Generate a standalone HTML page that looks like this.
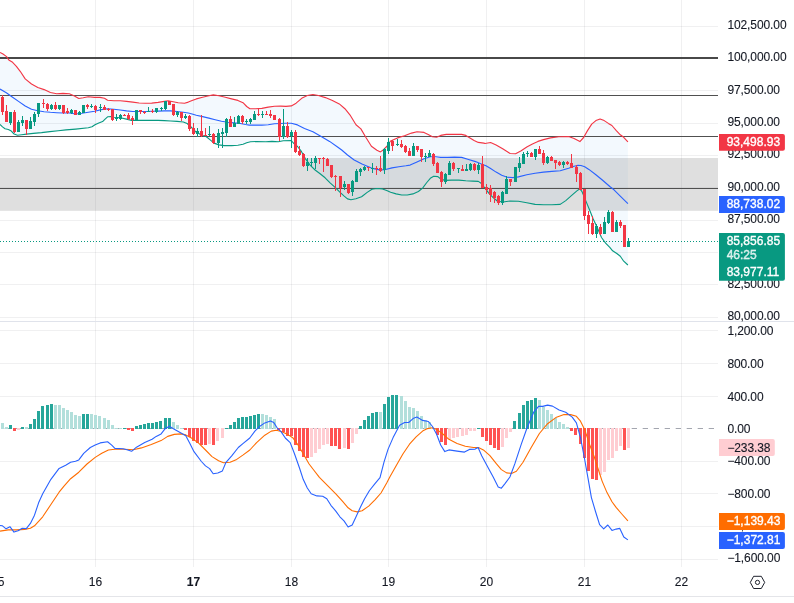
<!DOCTYPE html>
<html><head><meta charset="utf-8"><title>Chart</title>
<style>
html,body{margin:0;padding:0;background:#fff;}
body{width:794px;height:603px;overflow:hidden;}
svg{display:block;will-change:transform;}
text{font-family:"Liberation Sans",sans-serif;font-size:12px;fill:#131722;stroke:#131722;stroke-width:0.1px;letter-spacing:-0.1px;}
.w{fill:#fff;stroke:#fff;stroke-width:0.35px;letter-spacing:0;}
.t{letter-spacing:0;}
</style></head><body>
<svg width="794" height="603" viewBox="0 0 794 603">
<rect width="794" height="603" fill="#fff"/>

<g shape-rendering="crispEdges" fill="#2a2e39" fill-opacity="0.07">
<rect x="95" y="0" width="1" height="567"/>
<rect x="193" y="0" width="1" height="567"/>
<rect x="291" y="0" width="1" height="567"/>
<rect x="388" y="0" width="1" height="567"/>
<rect x="486" y="0" width="1" height="567"/>
<rect x="584" y="0" width="1" height="567"/>
<rect x="681" y="0" width="1" height="567"/>
<rect x="0" y="26" width="718" height="1"/>
<rect x="0" y="58" width="718" height="1"/>
<rect x="0" y="90" width="718" height="1"/>
<rect x="0" y="123" width="718" height="1"/>
<rect x="0" y="155" width="718" height="1"/>
<rect x="0" y="187" width="718" height="1"/>
<rect x="0" y="220" width="718" height="1"/>
<rect x="0" y="252" width="718" height="1"/>
<rect x="0" y="284" width="718" height="1"/>
<rect x="0" y="317" width="718" height="1"/>
<rect x="0" y="330" width="718" height="1"/>
<rect x="0" y="363" width="718" height="1"/>
<rect x="0" y="396" width="718" height="1"/>
<rect x="0" y="461" width="718" height="1"/>
<rect x="0" y="493" width="718" height="1"/>
<rect x="0" y="526" width="718" height="1"/>
<rect x="0" y="559" width="718" height="1"/>
</g>
<polygon points="0.0,52.4 3.0,54.0 6.6,56.6 8.8,60.0 12.6,62.3 16.4,66.3 20.2,71.3 25.2,78.9 31.5,84.0 37.8,87.5 44.1,89.6 50.4,92.5 56.7,93.7 63.0,93.4 69.4,93.8 74.4,95.9 78.8,98.5 83.2,97.8 88.3,96.8 94.6,97.4 100.0,97.4 104.5,98.3 107.6,100.2 113.9,100.8 120.2,100.8 126.5,101.4 132.8,102.1 139.1,103.0 145.4,103.3 151.7,103.1 158.1,102.4 164.4,101.4 168.1,100.8 173.2,101.7 178.2,102.7 184.5,103.3 188.3,102.1 192.1,100.6 196.3,98.9 202.6,97.3 208.9,95.8 213.3,94.9 219.0,95.8 225.3,97.3 231.6,98.9 237.9,100.4 243.0,102.7 246.7,106.5 249.9,108.8 255.6,108.8 261.9,108.4 268.2,107.1 274.5,106.2 280.8,106.1 286.0,106.4 291.3,105.9 296.1,103.2 301.7,98.3 307.3,95.5 312.9,94.5 318.4,95.5 325.4,97.6 332.4,100.4 339.3,103.9 344.9,108.7 350.5,115.7 356.0,124.7 360.9,128.9 365.8,137.3 371.4,146.3 376.9,150.3 380.4,151.9 383.5,149.7 386.7,146.5 390.6,141.0 397.5,137.9 404.5,135.8 411.5,133.1 417.0,131.7 424.0,132.4 428.2,134.4 432.4,136.8 436.5,137.2 440.7,135.4 446.3,134.4 454.6,134.4 461.6,134.4 465.8,135.4 470.0,137.9 474.1,140.4 478.3,142.4 483.9,143.1 485.0,143.5 490.6,142.5 496.1,144.9 503.1,149.1 510.1,153.5 515.6,153.7 521.2,150.7 526.8,147.0 532.4,143.9 537.9,141.4 543.5,139.6 550.5,137.9 558.8,136.8 568.6,136.5 574.1,138.6 579.9,141.6 583.6,137.5 587.5,130.6 591.7,124.1 595.9,120.6 600.1,119.0 604.2,120.6 608.4,123.4 611.9,125.5 616.1,130.4 620.3,134.8 623.7,137.3 627.9,141.9 627.9,265.0 623.7,261.2 620.3,256.3 616.8,253.5 612.6,250.8 609.8,247.3 605.6,243.1 601.5,237.5 597.3,227.8 593.1,218.7 588.9,208.3 585.4,199.9 582.0,191.6 579.9,188.8 576.9,190.9 571.4,195.7 565.8,200.6 560.2,204.4 551.9,204.8 543.5,204.8 535.1,204.4 526.8,202.7 518.4,201.3 510.1,201.0 503.1,202.0 497.5,201.3 493.4,197.8 489.2,193.6 485.0,188.1 483.5,186.5 481.1,183.2 478.3,181.4 472.7,181.1 465.8,180.8 458.8,180.1 451.9,180.1 444.9,180.4 440.7,179.0 437.9,176.6 433.7,176.2 430.3,178.3 426.8,182.5 422.6,188.1 418.4,191.5 412.9,193.9 407.3,195.0 401.7,195.0 396.1,193.9 390.6,192.2 386.7,190.6 382.5,188.9 376.9,188.5 372.0,189.2 367.2,192.4 361.6,196.8 355.9,198.7 350.9,199.7 347.5,198.9 344.2,196.1 340.1,192.4 335.1,187.4 330.1,182.8 325.1,177.8 320.1,173.7 315.1,170.0 310.1,165.2 305.1,158.3 301.0,150.8 297.5,146.5 293.4,143.0 291.3,140.6 283.3,140.8 278.3,141.8 272.0,141.4 265.7,141.8 256.8,141.5 250.5,141.8 246.7,142.8 243.0,144.3 237.9,145.3 231.6,145.6 224.0,145.6 219.0,144.9 214.0,143.1 210.2,139.9 206.4,136.7 202.6,135.5 196.3,132.3 192.5,128.5 190.0,126.0 187.1,123.5 183.3,122.0 177.0,121.4 170.7,121.0 164.4,120.6 158.1,120.4 145.4,120.4 139.1,120.4 131.6,120.4 126.5,119.1 120.2,117.8 113.9,117.2 111.4,116.6 107.6,116.8 105.1,119.1 102.6,121.6 98.8,123.1 95.0,124.8 92.0,126.8 88.3,127.8 75.7,129.1 66.0,129.9 58.2,130.7 49.9,131.6 41.6,132.6 33.3,133.4 26.6,134.1 21.6,134.7 17.5,135.2 14.1,134.0 10.8,130.7 8.3,129.5 5.0,128.8 2.5,126.9 0.0,124.4" fill="#2196f3" fill-opacity="0.055"/>
<rect x="0" y="158" width="718" height="52.8" fill="#787878" fill-opacity="0.235"/>
<g shape-rendering="crispEdges">
<rect x="0" y="57" width="718" height="2" fill="#484848"/>
<rect x="0" y="95" width="718" height="1" fill="#505050"/>
<rect x="0" y="136" width="718" height="1" fill="#505050"/>
<rect x="0" y="188" width="718" height="1" fill="#505050"/>
</g>
<line x1="0" y1="241.5" x2="718" y2="241.5" stroke="#089981" stroke-width="1" stroke-dasharray="1 2" shape-rendering="crispEdges"/>
<polyline points="0.0,52.4 3.0,54.0 6.6,56.6 8.8,60.0 12.6,62.3 16.4,66.3 20.2,71.3 25.2,78.9 31.5,84.0 37.8,87.5 44.1,89.6 50.4,92.5 56.7,93.7 63.0,93.4 69.4,93.8 74.4,95.9 78.8,98.5 83.2,97.8 88.3,96.8 94.6,97.4 100.0,97.4 104.5,98.3 107.6,100.2 113.9,100.8 120.2,100.8 126.5,101.4 132.8,102.1 139.1,103.0 145.4,103.3 151.7,103.1 158.1,102.4 164.4,101.4 168.1,100.8 173.2,101.7 178.2,102.7 184.5,103.3 188.3,102.1 192.1,100.6 196.3,98.9 202.6,97.3 208.9,95.8 213.3,94.9 219.0,95.8 225.3,97.3 231.6,98.9 237.9,100.4 243.0,102.7 246.7,106.5 249.9,108.8 255.6,108.8 261.9,108.4 268.2,107.1 274.5,106.2 280.8,106.1 286.0,106.4 291.3,105.9 296.1,103.2 301.7,98.3 307.3,95.5 312.9,94.5 318.4,95.5 325.4,97.6 332.4,100.4 339.3,103.9 344.9,108.7 350.5,115.7 356.0,124.7 360.9,128.9 365.8,137.3 371.4,146.3 376.9,150.3 380.4,151.9 383.5,149.7 386.7,146.5 390.6,141.0 397.5,137.9 404.5,135.8 411.5,133.1 417.0,131.7 424.0,132.4 428.2,134.4 432.4,136.8 436.5,137.2 440.7,135.4 446.3,134.4 454.6,134.4 461.6,134.4 465.8,135.4 470.0,137.9 474.1,140.4 478.3,142.4 483.9,143.1 485.0,143.5 490.6,142.5 496.1,144.9 503.1,149.1 510.1,153.5 515.6,153.7 521.2,150.7 526.8,147.0 532.4,143.9 537.9,141.4 543.5,139.6 550.5,137.9 558.8,136.8 568.6,136.5 574.1,138.6 579.9,141.6 583.6,137.5 587.5,130.6 591.7,124.1 595.9,120.6 600.1,119.0 604.2,120.6 608.4,123.4 611.9,125.5 616.1,130.4 620.3,134.8 623.7,137.3 627.9,141.9" fill="none" stroke="#f23645" stroke-width="1.12" stroke-linejoin="round"/>
<polyline points="0.0,124.4 2.5,126.9 5.0,128.8 8.3,129.5 10.8,130.7 14.1,134.0 17.5,135.2 21.6,134.7 26.6,134.1 33.3,133.4 41.6,132.6 49.9,131.6 58.2,130.7 66.0,129.9 75.7,129.1 88.3,127.8 92.0,126.8 95.0,124.8 98.8,123.1 102.6,121.6 105.1,119.1 107.6,116.8 111.4,116.6 113.9,117.2 120.2,117.8 126.5,119.1 131.6,120.4 139.1,120.4 145.4,120.4 158.1,120.4 164.4,120.6 170.7,121.0 177.0,121.4 183.3,122.0 187.1,123.5 190.0,126.0 192.5,128.5 196.3,132.3 202.6,135.5 206.4,136.7 210.2,139.9 214.0,143.1 219.0,144.9 224.0,145.6 231.6,145.6 237.9,145.3 243.0,144.3 246.7,142.8 250.5,141.8 256.8,141.5 265.7,141.8 272.0,141.4 278.3,141.8 283.3,140.8 291.3,140.6 293.4,143.0 297.5,146.5 301.0,150.8 305.1,158.3 310.1,165.2 315.1,170.0 320.1,173.7 325.1,177.8 330.1,182.8 335.1,187.4 340.1,192.4 344.2,196.1 347.5,198.9 350.9,199.7 355.9,198.7 361.6,196.8 367.2,192.4 372.0,189.2 376.9,188.5 382.5,188.9 386.7,190.6 390.6,192.2 396.1,193.9 401.7,195.0 407.3,195.0 412.9,193.9 418.4,191.5 422.6,188.1 426.8,182.5 430.3,178.3 433.7,176.2 437.9,176.6 440.7,179.0 444.9,180.4 451.9,180.1 458.8,180.1 465.8,180.8 472.7,181.1 478.3,181.4 481.1,183.2 483.5,186.5 485.0,188.1 489.2,193.6 493.4,197.8 497.5,201.3 503.1,202.0 510.1,201.0 518.4,201.3 526.8,202.7 535.1,204.4 543.5,204.8 551.9,204.8 560.2,204.4 565.8,200.6 571.4,195.7 576.9,190.9 579.9,188.8 582.0,191.6 585.4,199.9 588.9,208.3 593.1,218.7 597.3,227.8 601.5,237.5 605.6,243.1 609.8,247.3 612.6,250.8 616.8,253.5 620.3,256.3 623.7,261.2 627.9,265.0" fill="none" stroke="#089981" stroke-width="1.12" stroke-linejoin="round"/>
<polyline points="0.0,89.0 6.3,92.8 12.6,97.2 18.9,101.6 25.2,106.0 31.5,109.2 37.8,110.8 44.1,111.7 50.4,112.3 56.7,112.7 63.0,113.0 69.4,113.0 75.7,114.0 82.0,113.3 88.3,112.3 94.6,111.2 101.3,109.6 107.6,108.8 113.9,109.3 120.2,110.0 126.5,110.9 132.8,111.5 139.1,111.5 145.4,111.5 151.7,111.3 158.1,111.1 164.4,110.9 170.7,110.9 177.0,111.5 183.3,112.2 188.3,113.0 192.1,114.0 196.3,115.3 202.6,116.6 208.9,118.1 215.2,119.7 221.5,121.2 227.8,122.2 234.1,122.9 240.4,123.5 245.5,124.5 249.3,125.1 255.6,125.1 261.9,125.1 268.2,124.8 274.5,123.8 280.8,123.5 285.0,123.3 291.3,123.2 297.5,124.9 304.5,128.4 312.9,131.8 321.2,136.4 329.6,141.4 337.9,147.2 341.7,150.0 347.5,155.0 354.2,160.0 362.0,164.1 371.4,168.1 379.7,169.9 384.6,169.8 392.0,167.9 398.9,166.8 405.9,165.8 410.1,165.1 417.0,161.9 424.0,158.8 429.6,157.0 433.7,156.5 440.7,157.4 447.7,157.4 454.6,157.1 461.6,157.4 468.6,159.5 475.5,161.6 482.5,164.4 486.0,165.8 490.6,168.6 496.1,172.1 501.7,175.3 507.3,177.2 512.9,177.6 518.4,176.9 526.8,174.8 535.1,173.2 543.5,172.1 551.9,171.4 560.2,170.7 568.6,168.3 574.1,166.2 578.0,165.4 581.0,165.5 584.7,166.8 588.9,169.4 595.9,174.7 602.9,180.5 609.8,186.5 614.0,189.8 620.0,195.8 627.9,203.7" fill="none" stroke="#2962ff" stroke-width="1.12" stroke-linejoin="round"/>
<g shape-rendering="crispEdges">
<rect x="2" y="95" width="1" height="20" fill="#f23645"/>
<rect x="1" y="97" width="3" height="15" fill="#f23645"/>
<rect x="6" y="105" width="1" height="17" fill="#f23645"/>
<rect x="5" y="111" width="3" height="11" fill="#f23645"/>
<rect x="10" y="112" width="1" height="13" fill="#089981"/>
<rect x="9" y="112" width="3" height="11" fill="#089981"/>
<rect x="14" y="110" width="1" height="23" fill="#f23645"/>
<rect x="13" y="112" width="3" height="20" fill="#f23645"/>
<rect x="18" y="120" width="1" height="12" fill="#089981"/>
<rect x="17" y="122" width="3" height="10" fill="#089981"/>
<rect x="22" y="116" width="1" height="10" fill="#089981"/>
<rect x="21" y="120" width="3" height="3" fill="#089981"/>
<rect x="26" y="120" width="1" height="15" fill="#f23645"/>
<rect x="25" y="120" width="3" height="9" fill="#f23645"/>
<rect x="30" y="117" width="1" height="12" fill="#089981"/>
<rect x="29" y="121" width="3" height="8" fill="#089981"/>
<rect x="34" y="112" width="1" height="14" fill="#089981"/>
<rect x="33" y="114" width="3" height="8" fill="#089981"/>
<rect x="38" y="103" width="1" height="14" fill="#089981"/>
<rect x="37" y="103" width="3" height="11" fill="#089981"/>
<rect x="43" y="99" width="1" height="9" fill="#f23645"/>
<rect x="42" y="103" width="3" height="1" fill="#f23645"/>
<rect x="47" y="103" width="1" height="8" fill="#f23645"/>
<rect x="46" y="104" width="3" height="5" fill="#f23645"/>
<rect x="51" y="104" width="1" height="6" fill="#089981"/>
<rect x="50" y="105" width="3" height="4" fill="#089981"/>
<rect x="55" y="102" width="1" height="8" fill="#f23645"/>
<rect x="54" y="105" width="3" height="4" fill="#f23645"/>
<rect x="59" y="105" width="1" height="5" fill="#089981"/>
<rect x="58" y="105" width="3" height="4" fill="#089981"/>
<rect x="63" y="105" width="1" height="9" fill="#f23645"/>
<rect x="62" y="105" width="3" height="8" fill="#f23645"/>
<rect x="67" y="108" width="1" height="6" fill="#f23645"/>
<rect x="66" y="111" width="3" height="2" fill="#f23645"/>
<rect x="71" y="109" width="1" height="5" fill="#089981"/>
<rect x="70" y="110" width="3" height="3" fill="#089981"/>
<rect x="75" y="110" width="1" height="5" fill="#f23645"/>
<rect x="74" y="110" width="3" height="5" fill="#f23645"/>
<rect x="79" y="111" width="1" height="4" fill="#089981"/>
<rect x="78" y="112" width="3" height="3" fill="#089981"/>
<rect x="83" y="105" width="1" height="8" fill="#089981"/>
<rect x="82" y="105" width="3" height="8" fill="#089981"/>
<rect x="87" y="104" width="1" height="5" fill="#f23645"/>
<rect x="86" y="105" width="3" height="2" fill="#f23645"/>
<rect x="91" y="104" width="1" height="4" fill="#089981"/>
<rect x="90" y="106" width="3" height="1" fill="#089981"/>
<rect x="95" y="105" width="1" height="8" fill="#f23645"/>
<rect x="94" y="106" width="3" height="4" fill="#f23645"/>
<rect x="100" y="104" width="1" height="8" fill="#089981"/>
<rect x="99" y="107" width="3" height="1" fill="#089981"/>
<rect x="104" y="105" width="1" height="5" fill="#f23645"/>
<rect x="103" y="107" width="3" height="3" fill="#f23645"/>
<rect x="108" y="108" width="1" height="3" fill="#f23645"/>
<rect x="107" y="109" width="3" height="1" fill="#f23645"/>
<rect x="112" y="109" width="1" height="12" fill="#f23645"/>
<rect x="111" y="109" width="3" height="11" fill="#f23645"/>
<rect x="116" y="114" width="1" height="7" fill="#089981"/>
<rect x="115" y="118" width="3" height="1" fill="#089981"/>
<rect x="120" y="114" width="1" height="6" fill="#089981"/>
<rect x="119" y="115" width="3" height="4" fill="#089981"/>
<rect x="124" y="114" width="1" height="2" fill="#f23645"/>
<rect x="123" y="115" width="3" height="1" fill="#f23645"/>
<rect x="128" y="113" width="1" height="7" fill="#f23645"/>
<rect x="127" y="115" width="3" height="4" fill="#f23645"/>
<rect x="132" y="116" width="1" height="9" fill="#f23645"/>
<rect x="131" y="118" width="3" height="2" fill="#f23645"/>
<rect x="136" y="110" width="1" height="10" fill="#089981"/>
<rect x="135" y="110" width="3" height="10" fill="#089981"/>
<rect x="140" y="110" width="1" height="4" fill="#f23645"/>
<rect x="139" y="110" width="3" height="2" fill="#f23645"/>
<rect x="144" y="111" width="1" height="3" fill="#f23645"/>
<rect x="143" y="112" width="3" height="1" fill="#f23645"/>
<rect x="148" y="107" width="1" height="5" fill="#089981"/>
<rect x="147" y="111" width="3" height="1" fill="#089981"/>
<rect x="152" y="109" width="1" height="4" fill="#f23645"/>
<rect x="151" y="111" width="3" height="1" fill="#f23645"/>
<rect x="156" y="108" width="1" height="5" fill="#089981"/>
<rect x="155" y="108" width="3" height="4" fill="#089981"/>
<rect x="161" y="107" width="1" height="4" fill="#089981"/>
<rect x="160" y="108" width="3" height="1" fill="#089981"/>
<rect x="165" y="101" width="1" height="9" fill="#089981"/>
<rect x="164" y="101" width="3" height="8" fill="#089981"/>
<rect x="169" y="101" width="1" height="4" fill="#f23645"/>
<rect x="168" y="101" width="3" height="4" fill="#f23645"/>
<rect x="173" y="104" width="1" height="12" fill="#f23645"/>
<rect x="172" y="104" width="3" height="11" fill="#f23645"/>
<rect x="177" y="111" width="1" height="6" fill="#089981"/>
<rect x="176" y="112" width="3" height="3" fill="#089981"/>
<rect x="181" y="112" width="1" height="9" fill="#f23645"/>
<rect x="180" y="112" width="3" height="6" fill="#f23645"/>
<rect x="185" y="114" width="1" height="5" fill="#089981"/>
<rect x="184" y="116" width="3" height="2" fill="#089981"/>
<rect x="189" y="115" width="1" height="16" fill="#f23645"/>
<rect x="188" y="116" width="3" height="13" fill="#f23645"/>
<rect x="193" y="123" width="1" height="12" fill="#f23645"/>
<rect x="192" y="128" width="3" height="6" fill="#f23645"/>
<rect x="197" y="128" width="1" height="9" fill="#089981"/>
<rect x="196" y="131" width="3" height="3" fill="#089981"/>
<rect x="201" y="115" width="1" height="22" fill="#f23645"/>
<rect x="200" y="131" width="3" height="5" fill="#f23645"/>
<rect x="205" y="128" width="1" height="8" fill="#f23645"/>
<rect x="204" y="135" width="3" height="1" fill="#f23645"/>
<rect x="209" y="126" width="1" height="10" fill="#089981"/>
<rect x="208" y="134" width="3" height="1" fill="#089981"/>
<rect x="213" y="133" width="1" height="11" fill="#f23645"/>
<rect x="212" y="134" width="3" height="9" fill="#f23645"/>
<rect x="218" y="129" width="1" height="19" fill="#089981"/>
<rect x="217" y="133" width="3" height="10" fill="#089981"/>
<rect x="222" y="128" width="1" height="20" fill="#089981"/>
<rect x="221" y="132" width="3" height="2" fill="#089981"/>
<rect x="226" y="118" width="1" height="19" fill="#089981"/>
<rect x="225" y="119" width="3" height="14" fill="#089981"/>
<rect x="230" y="116" width="1" height="11" fill="#f23645"/>
<rect x="229" y="119" width="3" height="8" fill="#f23645"/>
<rect x="234" y="117" width="1" height="10" fill="#089981"/>
<rect x="233" y="123" width="3" height="4" fill="#089981"/>
<rect x="238" y="115" width="1" height="9" fill="#089981"/>
<rect x="237" y="116" width="3" height="8" fill="#089981"/>
<rect x="242" y="115" width="1" height="9" fill="#f23645"/>
<rect x="241" y="116" width="3" height="6" fill="#f23645"/>
<rect x="246" y="119" width="1" height="5" fill="#089981"/>
<rect x="245" y="121" width="3" height="1" fill="#089981"/>
<rect x="250" y="118" width="1" height="6" fill="#089981"/>
<rect x="249" y="119" width="3" height="3" fill="#089981"/>
<rect x="254" y="111" width="1" height="9" fill="#089981"/>
<rect x="253" y="114" width="3" height="6" fill="#089981"/>
<rect x="258" y="109" width="1" height="7" fill="#f23645"/>
<rect x="257" y="114" width="3" height="1" fill="#f23645"/>
<rect x="262" y="111" width="1" height="7" fill="#089981"/>
<rect x="261" y="114" width="3" height="1" fill="#089981"/>
<rect x="266" y="111" width="1" height="4" fill="#f23645"/>
<rect x="265" y="114" width="3" height="1" fill="#f23645"/>
<rect x="270" y="110" width="1" height="8" fill="#f23645"/>
<rect x="269" y="114" width="3" height="2" fill="#f23645"/>
<rect x="274" y="115" width="1" height="5" fill="#f23645"/>
<rect x="273" y="115" width="3" height="5" fill="#f23645"/>
<rect x="279" y="118" width="1" height="23" fill="#f23645"/>
<rect x="278" y="119" width="3" height="18" fill="#f23645"/>
<rect x="283" y="109" width="1" height="30" fill="#089981"/>
<rect x="282" y="126" width="3" height="11" fill="#089981"/>
<rect x="287" y="122" width="1" height="16" fill="#f23645"/>
<rect x="286" y="126" width="3" height="11" fill="#f23645"/>
<rect x="291" y="130" width="1" height="18" fill="#089981"/>
<rect x="290" y="132" width="3" height="4" fill="#089981"/>
<rect x="295" y="130" width="1" height="23" fill="#f23645"/>
<rect x="294" y="132" width="3" height="20" fill="#f23645"/>
<rect x="299" y="146" width="1" height="10" fill="#f23645"/>
<rect x="298" y="151" width="3" height="4" fill="#f23645"/>
<rect x="303" y="153" width="1" height="14" fill="#f23645"/>
<rect x="302" y="154" width="3" height="12" fill="#f23645"/>
<rect x="307" y="158" width="1" height="13" fill="#089981"/>
<rect x="306" y="162" width="3" height="4" fill="#089981"/>
<rect x="311" y="158" width="1" height="9" fill="#089981"/>
<rect x="310" y="162" width="3" height="1" fill="#089981"/>
<rect x="315" y="156" width="1" height="13" fill="#089981"/>
<rect x="314" y="158" width="3" height="5" fill="#089981"/>
<rect x="319" y="158" width="1" height="6" fill="#f23645"/>
<rect x="318" y="158" width="3" height="1" fill="#f23645"/>
<rect x="323" y="157" width="1" height="15" fill="#f23645"/>
<rect x="322" y="158" width="3" height="1" fill="#f23645"/>
<rect x="327" y="158" width="1" height="8" fill="#f23645"/>
<rect x="326" y="159" width="3" height="7" fill="#f23645"/>
<rect x="331" y="165" width="1" height="13" fill="#f23645"/>
<rect x="330" y="165" width="3" height="12" fill="#f23645"/>
<rect x="335" y="175" width="1" height="16" fill="#f23645"/>
<rect x="334" y="176" width="3" height="1" fill="#f23645"/>
<rect x="340" y="176" width="1" height="21" fill="#f23645"/>
<rect x="339" y="176" width="3" height="12" fill="#f23645"/>
<rect x="344" y="181" width="1" height="9" fill="#089981"/>
<rect x="343" y="184" width="3" height="3" fill="#089981"/>
<rect x="348" y="184" width="1" height="10" fill="#f23645"/>
<rect x="347" y="184" width="3" height="9" fill="#f23645"/>
<rect x="352" y="180" width="1" height="16" fill="#089981"/>
<rect x="351" y="181" width="3" height="11" fill="#089981"/>
<rect x="356" y="169" width="1" height="13" fill="#089981"/>
<rect x="355" y="171" width="3" height="11" fill="#089981"/>
<rect x="360" y="168" width="1" height="8" fill="#089981"/>
<rect x="359" y="169" width="3" height="3" fill="#089981"/>
<rect x="364" y="166" width="1" height="5" fill="#089981"/>
<rect x="363" y="167" width="3" height="3" fill="#089981"/>
<rect x="368" y="167" width="1" height="4" fill="#f23645"/>
<rect x="367" y="167" width="3" height="1" fill="#f23645"/>
<rect x="372" y="163" width="1" height="10" fill="#089981"/>
<rect x="371" y="168" width="3" height="1" fill="#089981"/>
<rect x="376" y="166" width="1" height="9" fill="#f23645"/>
<rect x="375" y="168" width="3" height="1" fill="#f23645"/>
<rect x="380" y="156" width="1" height="16" fill="#f23645"/>
<rect x="379" y="168" width="3" height="3" fill="#f23645"/>
<rect x="384" y="148" width="1" height="26" fill="#089981"/>
<rect x="383" y="149" width="3" height="21" fill="#089981"/>
<rect x="388" y="138" width="1" height="16" fill="#089981"/>
<rect x="387" y="142" width="3" height="9" fill="#089981"/>
<rect x="392" y="140" width="1" height="11" fill="#f23645"/>
<rect x="391" y="141" width="3" height="5" fill="#f23645"/>
<rect x="397" y="139" width="1" height="7" fill="#089981"/>
<rect x="396" y="144" width="3" height="1" fill="#089981"/>
<rect x="401" y="140" width="1" height="8" fill="#f23645"/>
<rect x="400" y="144" width="3" height="3" fill="#f23645"/>
<rect x="405" y="145" width="1" height="8" fill="#f23645"/>
<rect x="404" y="146" width="3" height="6" fill="#f23645"/>
<rect x="409" y="148" width="1" height="8" fill="#f23645"/>
<rect x="408" y="151" width="3" height="5" fill="#f23645"/>
<rect x="413" y="143" width="1" height="13" fill="#089981"/>
<rect x="412" y="146" width="3" height="10" fill="#089981"/>
<rect x="417" y="146" width="1" height="6" fill="#f23645"/>
<rect x="416" y="146" width="3" height="4" fill="#f23645"/>
<rect x="421" y="149" width="1" height="13" fill="#f23645"/>
<rect x="420" y="149" width="3" height="8" fill="#f23645"/>
<rect x="425" y="153" width="1" height="9" fill="#089981"/>
<rect x="424" y="156" width="3" height="1" fill="#089981"/>
<rect x="429" y="150" width="1" height="7" fill="#089981"/>
<rect x="428" y="153" width="3" height="4" fill="#089981"/>
<rect x="433" y="153" width="1" height="13" fill="#f23645"/>
<rect x="432" y="154" width="3" height="10" fill="#f23645"/>
<rect x="437" y="162" width="1" height="11" fill="#f23645"/>
<rect x="436" y="163" width="3" height="10" fill="#f23645"/>
<rect x="441" y="171" width="1" height="16" fill="#f23645"/>
<rect x="440" y="172" width="3" height="10" fill="#f23645"/>
<rect x="445" y="173" width="1" height="11" fill="#089981"/>
<rect x="444" y="174" width="3" height="8" fill="#089981"/>
<rect x="449" y="161" width="1" height="14" fill="#089981"/>
<rect x="448" y="163" width="3" height="12" fill="#089981"/>
<rect x="453" y="162" width="1" height="9" fill="#f23645"/>
<rect x="452" y="163" width="3" height="6" fill="#f23645"/>
<rect x="458" y="168" width="1" height="5" fill="#089981"/>
<rect x="457" y="168" width="3" height="1" fill="#089981"/>
<rect x="462" y="165" width="1" height="6" fill="#f23645"/>
<rect x="461" y="169" width="3" height="2" fill="#f23645"/>
<rect x="466" y="164" width="1" height="7" fill="#089981"/>
<rect x="465" y="169" width="3" height="2" fill="#089981"/>
<rect x="470" y="163" width="1" height="8" fill="#089981"/>
<rect x="469" y="164" width="3" height="6" fill="#089981"/>
<rect x="474" y="163" width="1" height="8" fill="#f23645"/>
<rect x="473" y="164" width="3" height="6" fill="#f23645"/>
<rect x="478" y="163" width="1" height="11" fill="#089981"/>
<rect x="477" y="165" width="3" height="5" fill="#089981"/>
<rect x="482" y="156" width="1" height="32" fill="#f23645"/>
<rect x="481" y="164" width="3" height="24" fill="#f23645"/>
<rect x="486" y="184" width="1" height="10" fill="#f23645"/>
<rect x="485" y="187" width="3" height="3" fill="#f23645"/>
<rect x="490" y="185" width="1" height="17" fill="#f23645"/>
<rect x="489" y="188" width="3" height="7" fill="#f23645"/>
<rect x="494" y="191" width="1" height="12" fill="#f23645"/>
<rect x="493" y="192" width="3" height="6" fill="#f23645"/>
<rect x="498" y="195" width="1" height="10" fill="#f23645"/>
<rect x="497" y="196" width="3" height="7" fill="#f23645"/>
<rect x="502" y="191" width="1" height="14" fill="#089981"/>
<rect x="501" y="192" width="3" height="11" fill="#089981"/>
<rect x="506" y="176" width="1" height="18" fill="#089981"/>
<rect x="505" y="179" width="3" height="15" fill="#089981"/>
<rect x="510" y="179" width="1" height="7" fill="#f23645"/>
<rect x="509" y="179" width="3" height="3" fill="#f23645"/>
<rect x="515" y="167" width="1" height="15" fill="#089981"/>
<rect x="514" y="167" width="3" height="15" fill="#089981"/>
<rect x="519" y="157" width="1" height="15" fill="#089981"/>
<rect x="518" y="163" width="3" height="5" fill="#089981"/>
<rect x="523" y="152" width="1" height="12" fill="#089981"/>
<rect x="522" y="154" width="3" height="10" fill="#089981"/>
<rect x="527" y="151" width="1" height="6" fill="#089981"/>
<rect x="526" y="153" width="3" height="1" fill="#089981"/>
<rect x="531" y="152" width="1" height="5" fill="#f23645"/>
<rect x="530" y="153" width="3" height="4" fill="#f23645"/>
<rect x="535" y="149" width="1" height="11" fill="#089981"/>
<rect x="534" y="149" width="3" height="8" fill="#089981"/>
<rect x="539" y="146" width="1" height="8" fill="#f23645"/>
<rect x="538" y="149" width="3" height="5" fill="#f23645"/>
<rect x="543" y="150" width="1" height="15" fill="#f23645"/>
<rect x="542" y="153" width="3" height="10" fill="#f23645"/>
<rect x="547" y="156" width="1" height="8" fill="#089981"/>
<rect x="546" y="157" width="3" height="6" fill="#089981"/>
<rect x="551" y="156" width="1" height="5" fill="#f23645"/>
<rect x="550" y="157" width="3" height="4" fill="#f23645"/>
<rect x="555" y="160" width="1" height="9" fill="#f23645"/>
<rect x="554" y="160" width="3" height="3" fill="#f23645"/>
<rect x="559" y="161" width="1" height="5" fill="#f23645"/>
<rect x="558" y="162" width="3" height="3" fill="#f23645"/>
<rect x="563" y="161" width="1" height="7" fill="#089981"/>
<rect x="562" y="162" width="3" height="3" fill="#089981"/>
<rect x="567" y="161" width="1" height="4" fill="#f23645"/>
<rect x="566" y="162" width="3" height="2" fill="#f23645"/>
<rect x="571" y="154" width="1" height="14" fill="#f23645"/>
<rect x="570" y="163" width="3" height="5" fill="#f23645"/>
<rect x="576" y="165" width="1" height="17" fill="#f23645"/>
<rect x="575" y="167" width="3" height="7" fill="#f23645"/>
<rect x="580" y="172" width="1" height="18" fill="#f23645"/>
<rect x="579" y="173" width="3" height="17" fill="#f23645"/>
<rect x="584" y="189" width="1" height="31" fill="#f23645"/>
<rect x="583" y="189" width="3" height="27" fill="#f23645"/>
<rect x="588" y="211" width="1" height="23" fill="#f23645"/>
<rect x="587" y="215" width="3" height="9" fill="#f23645"/>
<rect x="592" y="216" width="1" height="19" fill="#f23645"/>
<rect x="591" y="223" width="3" height="11" fill="#f23645"/>
<rect x="596" y="224" width="1" height="14" fill="#089981"/>
<rect x="595" y="226" width="3" height="8" fill="#089981"/>
<rect x="600" y="224" width="1" height="11" fill="#f23645"/>
<rect x="599" y="227" width="3" height="7" fill="#f23645"/>
<rect x="604" y="217" width="1" height="17" fill="#089981"/>
<rect x="603" y="222" width="3" height="12" fill="#089981"/>
<rect x="608" y="210" width="1" height="14" fill="#089981"/>
<rect x="607" y="212" width="3" height="11" fill="#089981"/>
<rect x="612" y="211" width="1" height="21" fill="#f23645"/>
<rect x="611" y="212" width="3" height="20" fill="#f23645"/>
<rect x="616" y="220" width="1" height="12" fill="#089981"/>
<rect x="615" y="222" width="3" height="10" fill="#089981"/>
<rect x="620" y="220" width="1" height="8" fill="#f23645"/>
<rect x="619" y="222" width="3" height="4" fill="#f23645"/>
<rect x="624" y="225" width="1" height="22" fill="#f23645"/>
<rect x="623" y="225" width="3" height="22" fill="#f23645"/>
<rect x="628" y="238" width="1" height="9" fill="#089981"/>
<rect x="627" y="241" width="3" height="6" fill="#089981"/>
</g>
<rect x="0" y="321" width="794" height="1" fill="#e0e3eb" shape-rendering="crispEdges"/>
<line x1="-6.3" y1="428.5" x2="718" y2="428.5" stroke="#a3a6af" stroke-width="1" stroke-dasharray="5.3 5.7"/>
<g shape-rendering="crispEdges">
<rect x="1" y="423" width="3" height="6" fill="#b2dfdb"/>
<rect x="5" y="427" width="3" height="2" fill="#b2dfdb"/>
<rect x="9" y="425" width="3" height="4" fill="#26a69a"/>
<rect x="13" y="428" width="3" height="3" fill="#ff5252"/>
<rect x="17" y="428" width="3" height="2" fill="#ffcdd2"/>
<rect x="21" y="427" width="3" height="2" fill="#26a69a"/>
<rect x="25" y="427" width="3" height="2" fill="#b2dfdb"/>
<rect x="29" y="424" width="3" height="5" fill="#26a69a"/>
<rect x="33" y="419" width="3" height="10" fill="#26a69a"/>
<rect x="37" y="411" width="3" height="18" fill="#26a69a"/>
<rect x="41" y="406" width="3" height="23" fill="#26a69a"/>
<rect x="46" y="405" width="3" height="24" fill="#26a69a"/>
<rect x="50" y="404" width="3" height="25" fill="#26a69a"/>
<rect x="54" y="405" width="3" height="24" fill="#b2dfdb"/>
<rect x="58" y="405" width="3" height="24" fill="#b2dfdb"/>
<rect x="62" y="408" width="3" height="21" fill="#b2dfdb"/>
<rect x="66" y="410" width="3" height="19" fill="#b2dfdb"/>
<rect x="70" y="412" width="3" height="17" fill="#b2dfdb"/>
<rect x="74" y="415" width="3" height="14" fill="#b2dfdb"/>
<rect x="78" y="416" width="3" height="13" fill="#b2dfdb"/>
<rect x="82" y="414" width="3" height="15" fill="#26a69a"/>
<rect x="86" y="414" width="3" height="15" fill="#26a69a"/>
<rect x="90" y="414" width="3" height="15" fill="#b2dfdb"/>
<rect x="94" y="415" width="3" height="14" fill="#b2dfdb"/>
<rect x="98" y="416" width="3" height="13" fill="#b2dfdb"/>
<rect x="103" y="418" width="3" height="11" fill="#b2dfdb"/>
<rect x="107" y="420" width="3" height="9" fill="#b2dfdb"/>
<rect x="111" y="425" width="3" height="4" fill="#b2dfdb"/>
<rect x="115" y="428" width="3" height="1" fill="#b2dfdb"/>
<rect x="119" y="428" width="3" height="1" fill="#b2dfdb"/>
<rect x="123" y="428" width="3" height="1" fill="#26a69a"/>
<rect x="127" y="428" width="3" height="2" fill="#ff5252"/>
<rect x="131" y="428" width="3" height="3" fill="#ff5252"/>
<rect x="135" y="426" width="3" height="3" fill="#26a69a"/>
<rect x="139" y="425" width="3" height="4" fill="#26a69a"/>
<rect x="143" y="424" width="3" height="5" fill="#26a69a"/>
<rect x="147" y="423" width="3" height="6" fill="#26a69a"/>
<rect x="151" y="423" width="3" height="6" fill="#26a69a"/>
<rect x="155" y="422" width="3" height="7" fill="#26a69a"/>
<rect x="159" y="421" width="3" height="8" fill="#26a69a"/>
<rect x="164" y="418" width="3" height="11" fill="#26a69a"/>
<rect x="168" y="418" width="3" height="11" fill="#26a69a"/>
<rect x="172" y="422" width="3" height="7" fill="#b2dfdb"/>
<rect x="176" y="425" width="3" height="4" fill="#b2dfdb"/>
<rect x="180" y="428" width="3" height="1" fill="#b2dfdb"/>
<rect x="184" y="428" width="3" height="2" fill="#ff5252"/>
<rect x="188" y="428" width="3" height="9" fill="#ff5252"/>
<rect x="192" y="428" width="3" height="13" fill="#ff5252"/>
<rect x="196" y="428" width="3" height="15" fill="#ff5252"/>
<rect x="200" y="428" width="3" height="17" fill="#ff5252"/>
<rect x="204" y="428" width="3" height="17" fill="#ff5252"/>
<rect x="208" y="428" width="3" height="16" fill="#ffcdd2"/>
<rect x="212" y="428" width="3" height="17" fill="#ff5252"/>
<rect x="216" y="428" width="3" height="13" fill="#ffcdd2"/>
<rect x="221" y="428" width="3" height="10" fill="#ffcdd2"/>
<rect x="225" y="428" width="3" height="1" fill="#26a69a"/>
<rect x="229" y="425" width="3" height="4" fill="#26a69a"/>
<rect x="233" y="422" width="3" height="7" fill="#26a69a"/>
<rect x="237" y="418" width="3" height="11" fill="#26a69a"/>
<rect x="241" y="417" width="3" height="12" fill="#26a69a"/>
<rect x="245" y="417" width="3" height="12" fill="#26a69a"/>
<rect x="249" y="416" width="3" height="13" fill="#26a69a"/>
<rect x="253" y="415" width="3" height="14" fill="#26a69a"/>
<rect x="257" y="414" width="3" height="15" fill="#26a69a"/>
<rect x="261" y="414" width="3" height="15" fill="#b2dfdb"/>
<rect x="265" y="415" width="3" height="14" fill="#b2dfdb"/>
<rect x="269" y="417" width="3" height="12" fill="#b2dfdb"/>
<rect x="273" y="419" width="3" height="10" fill="#b2dfdb"/>
<rect x="277" y="428" width="3" height="2" fill="#ff5252"/>
<rect x="282" y="428" width="3" height="4" fill="#ff5252"/>
<rect x="286" y="428" width="3" height="8" fill="#ff5252"/>
<rect x="290" y="428" width="3" height="8" fill="#ff5252"/>
<rect x="294" y="428" width="3" height="17" fill="#ff5252"/>
<rect x="298" y="428" width="3" height="23" fill="#ff5252"/>
<rect x="302" y="428" width="3" height="29" fill="#ff5252"/>
<rect x="306" y="428" width="3" height="30" fill="#ff5252"/>
<rect x="310" y="428" width="3" height="29" fill="#ffcdd2"/>
<rect x="314" y="428" width="3" height="25" fill="#ffcdd2"/>
<rect x="318" y="428" width="3" height="21" fill="#ffcdd2"/>
<rect x="322" y="428" width="3" height="17" fill="#ffcdd2"/>
<rect x="326" y="428" width="3" height="16" fill="#ffcdd2"/>
<rect x="330" y="428" width="3" height="18" fill="#ff5252"/>
<rect x="334" y="428" width="3" height="18" fill="#ff5252"/>
<rect x="338" y="428" width="3" height="21" fill="#ff5252"/>
<rect x="343" y="428" width="3" height="20" fill="#ffcdd2"/>
<rect x="347" y="428" width="3" height="21" fill="#ff5252"/>
<rect x="351" y="428" width="3" height="15" fill="#ffcdd2"/>
<rect x="355" y="428" width="3" height="6" fill="#ffcdd2"/>
<rect x="359" y="426" width="3" height="3" fill="#26a69a"/>
<rect x="363" y="420" width="3" height="9" fill="#26a69a"/>
<rect x="367" y="416" width="3" height="13" fill="#26a69a"/>
<rect x="371" y="413" width="3" height="16" fill="#26a69a"/>
<rect x="375" y="412" width="3" height="17" fill="#26a69a"/>
<rect x="379" y="412" width="3" height="17" fill="#b2dfdb"/>
<rect x="383" y="404" width="3" height="25" fill="#26a69a"/>
<rect x="387" y="397" width="3" height="32" fill="#26a69a"/>
<rect x="391" y="395" width="3" height="34" fill="#26a69a"/>
<rect x="395" y="395" width="3" height="34" fill="#26a69a"/>
<rect x="400" y="396" width="3" height="33" fill="#b2dfdb"/>
<rect x="404" y="401" width="3" height="28" fill="#b2dfdb"/>
<rect x="408" y="407" width="3" height="22" fill="#b2dfdb"/>
<rect x="412" y="408" width="3" height="21" fill="#b2dfdb"/>
<rect x="416" y="411" width="3" height="18" fill="#b2dfdb"/>
<rect x="420" y="416" width="3" height="13" fill="#b2dfdb"/>
<rect x="424" y="420" width="3" height="9" fill="#b2dfdb"/>
<rect x="428" y="422" width="3" height="7" fill="#b2dfdb"/>
<rect x="432" y="428" width="3" height="1" fill="#b2dfdb"/>
<rect x="436" y="428" width="3" height="7" fill="#ff5252"/>
<rect x="440" y="428" width="3" height="14" fill="#ff5252"/>
<rect x="444" y="428" width="3" height="17" fill="#ff5252"/>
<rect x="448" y="428" width="3" height="11" fill="#ffcdd2"/>
<rect x="452" y="428" width="3" height="10" fill="#ffcdd2"/>
<rect x="456" y="428" width="3" height="9" fill="#ffcdd2"/>
<rect x="461" y="428" width="3" height="8" fill="#ffcdd2"/>
<rect x="465" y="428" width="3" height="7" fill="#ffcdd2"/>
<rect x="469" y="428" width="3" height="3" fill="#ffcdd2"/>
<rect x="473" y="428" width="3" height="3" fill="#ffcdd2"/>
<rect x="477" y="428" width="3" height="1" fill="#26a69a"/>
<rect x="481" y="428" width="3" height="9" fill="#ff5252"/>
<rect x="485" y="428" width="3" height="13" fill="#ff5252"/>
<rect x="489" y="428" width="3" height="17" fill="#ff5252"/>
<rect x="493" y="428" width="3" height="20" fill="#ff5252"/>
<rect x="497" y="428" width="3" height="22" fill="#ff5252"/>
<rect x="501" y="428" width="3" height="19" fill="#ffcdd2"/>
<rect x="505" y="428" width="3" height="10" fill="#ffcdd2"/>
<rect x="509" y="428" width="3" height="4" fill="#ffcdd2"/>
<rect x="513" y="421" width="3" height="8" fill="#26a69a"/>
<rect x="518" y="413" width="3" height="16" fill="#26a69a"/>
<rect x="522" y="405" width="3" height="24" fill="#26a69a"/>
<rect x="526" y="401" width="3" height="28" fill="#26a69a"/>
<rect x="530" y="400" width="3" height="29" fill="#26a69a"/>
<rect x="534" y="398" width="3" height="31" fill="#26a69a"/>
<rect x="538" y="400" width="3" height="29" fill="#b2dfdb"/>
<rect x="542" y="407" width="3" height="22" fill="#b2dfdb"/>
<rect x="546" y="410" width="3" height="19" fill="#b2dfdb"/>
<rect x="550" y="414" width="3" height="15" fill="#b2dfdb"/>
<rect x="554" y="418" width="3" height="11" fill="#b2dfdb"/>
<rect x="558" y="422" width="3" height="7" fill="#b2dfdb"/>
<rect x="562" y="424" width="3" height="5" fill="#b2dfdb"/>
<rect x="566" y="427" width="3" height="2" fill="#b2dfdb"/>
<rect x="570" y="428" width="3" height="3" fill="#ff5252"/>
<rect x="574" y="428" width="3" height="7" fill="#ff5252"/>
<rect x="579" y="428" width="3" height="16" fill="#ff5252"/>
<rect x="583" y="428" width="3" height="30" fill="#ff5252"/>
<rect x="587" y="428" width="3" height="43" fill="#ff5252"/>
<rect x="591" y="428" width="3" height="51" fill="#ff5252"/>
<rect x="595" y="428" width="3" height="52" fill="#ff5252"/>
<rect x="599" y="428" width="3" height="47" fill="#ffcdd2"/>
<rect x="603" y="428" width="3" height="44" fill="#ffcdd2"/>
<rect x="607" y="428" width="3" height="32" fill="#ffcdd2"/>
<rect x="611" y="428" width="3" height="30" fill="#ffcdd2"/>
<rect x="615" y="428" width="3" height="23" fill="#ffcdd2"/>
<rect x="619" y="428" width="3" height="18" fill="#ffcdd2"/>
<rect x="623" y="428" width="3" height="22" fill="#ff5252"/>
<rect x="627" y="428" width="3" height="20" fill="#ffcdd2"/>
</g>
<polyline points="0.0,531.1 8.2,529.9 16.4,529.9 24.6,529.4 30.4,528.3 34.5,525.8 42.7,516.8 50.9,504.5 59.1,492.2 64.0,486.1 70.6,478.7 78.8,472.2 87.0,464.0 95.2,457.4 101.8,453.3 108.4,450.0 114.9,449.2 123.2,449.2 129.7,449.5 133.2,449.7 141.4,447.9 151.3,444.6 161.1,440.6 167.7,436.4 174.3,434.4 180.8,433.9 185.8,434.9 192.3,438.5 198.9,443.4 205.5,450.0 212.0,456.6 218.6,460.7 223.5,462.7 230.1,462.3 236.7,459.4 243.2,454.9 249.8,450.0 256.6,442.6 264.8,435.2 271.3,431.1 276.3,430.3 281.2,431.5 286.9,433.9 292.7,437.7 297.6,444.3 302.5,452.5 309.1,464.0 313.7,470.0 319.4,477.4 327.6,485.6 335.8,493.8 342.4,501.2 348.1,507.8 352.2,510.7 357.2,511.9 362.1,510.7 368.7,506.1 375.2,499.6 381.0,493.0 386.7,483.1 389.8,477.0 396.3,465.5 402.9,454.0 409.5,444.2 416.1,436.8 422.6,431.1 427.5,428.6 432.5,427.8 436.6,429.4 442.3,433.5 448.9,439.3 457.1,443.4 465.3,446.3 473.5,447.5 478.4,447.5 483.4,449.9 489.9,455.7 496.5,463.9 501.4,469.6 506.6,472.9 511.5,473.4 516.4,471.3 523.0,462.2 531.2,447.5 539.4,433.5 547.6,423.7 555.8,417.6 564.0,414.6 570.6,414.6 576.4,416.3 580.5,421.2 584.6,429.4 589.5,444.2 594.4,457.3 598.3,469.5 602.1,481.1 607.0,492.6 612.0,501.7 616.1,507.4 621.8,514.0 627.9,520.9" fill="none" stroke="#ff6d00" stroke-width="1.1" stroke-linejoin="round"/>
<polyline points="0.0,525.5 2.5,525.8 6.1,528.8 9.9,526.7 14.0,532.1 18.1,530.8 22.2,528.3 26.3,528.6 30.4,523.4 34.5,515.2 38.6,502.8 42.7,493.8 50.9,479.3 59.1,468.4 65.7,465.3 70.6,462.3 75.5,461.2 78.8,459.9 83.7,453.3 90.3,447.5 95.2,445.1 100.2,442.9 107.6,441.8 111.7,445.1 114.9,448.4 123.2,448.7 127.0,449.8 131.6,451.3 136.5,447.2 144.7,442.6 152.1,439.3 156.2,436.4 161.1,433.9 165.2,428.7 169.3,426.2 173.4,428.7 179.2,431.9 185.8,435.7 189.9,443.4 194.0,451.7 201.4,461.5 205.5,465.9 209.6,468.6 213.2,473.8 217.8,473.0 222.4,470.9 226.0,462.3 231.7,455.8 238.3,447.5 243.2,443.4 249.8,438.0 254.9,431.1 259.9,426.2 264.8,422.9 270.5,420.9 273.8,422.6 277.1,427.8 281.2,431.9 285.3,438.0 290.2,442.6 294.3,453.3 299.5,468.0 303.2,479.3 307.3,488.0 311.2,493.8 316.9,495.9 322.7,496.3 326.8,498.7 330.9,505.3 335.8,511.1 339.9,516.8 344.0,520.9 348.1,527.0 352.2,525.0 356.4,516.0 360.5,506.9 364.6,498.7 369.5,490.5 375.2,483.3 380.0,477.6 384.0,462.2 388.1,449.1 393.1,437.6 399.6,425.3 404.6,422.5 408.7,422.5 413.6,418.2 416.9,417.1 422.6,420.4 428.4,421.5 432.5,426.5 436.6,434.3 440.7,445.0 444.8,451.6 448.9,449.9 457.1,451.1 464.5,452.1 469.4,449.4 475.2,449.1 478.1,447.5 481.7,455.7 488.3,468.0 493.2,477.0 498.2,486.9 501.4,488.2 505.0,483.6 509.9,477.0 514.8,463.9 521.3,444.2 527.1,427.8 533.7,412.2 538.6,406.4 542.7,406.4 547.6,405.1 552.5,406.1 559.1,410.0 565.7,412.2 572.2,417.1 576.4,422.8 580.5,437.6 584.6,459.0 588.0,478.2 591.4,497.6 595.5,511.5 599.6,524.7 603.7,528.8 607.8,525.0 612.0,530.4 616.1,529.1 619.8,528.4 623.8,537.0 627.9,539.9" fill="none" stroke="#2962ff" stroke-width="1.1" stroke-linejoin="round"/>
<rect x="0" y="596" width="794" height="1" fill="#e4e5e9" shape-rendering="crispEdges"/>
<text x="727.4" y="28.6">102,500.00</text>
<text x="727.4" y="60.6">100,000.00</text>
<text x="727.4" y="93.7">97,500.00</text>
<text x="727.4" y="125.9">95,000.00</text>
<text x="727.4" y="158.4">92,500.00</text>
<text x="727.4" y="190.8">90,000.00</text>
<text x="727.4" y="223.0">87,500.00</text>
<text x="727.4" y="255.5">85,000.00</text>
<text x="727.4" y="288.0">82,500.00</text>
<text x="727.4" y="320.2">80,000.00</text>
<text x="727.4" y="334.5">1,200.00</text>
<text x="727.4" y="368.3">800.00</text>
<text x="727.4" y="400.7">400.00</text>
<text x="727.4" y="432.8">0.00</text>
<text x="727.4" y="465.0">−400.00</text>
<text x="727.4" y="498.3">−800.00</text>
<text x="727.4" y="529.6">−1,200.00</text>
<text x="727.4" y="561.9">−1,600.00</text>
<path d="M719 134.0H782.9Q784.9 134.0 784.9 136.0V148.8Q784.9 150.8 782.9 150.8H719Z" fill="#f23645"/>
<text x="726.7" y="146.1" class="w">93,498.93</text>
<path d="M719 196.0H782.9Q784.9 196.0 784.9 198.0V210.9Q784.9 212.9 782.9 212.9H719Z" fill="#2962ff"/>
<text x="726.7" y="208.0" class="w">88,738.02</text>
<path d="M719 233.0H782.9Q784.9 233.0 784.9 235.0V278.8Q784.9 280.8 782.9 280.8H719Z" fill="#089981"/>
<text x="726.7" y="245.1" class="w">85,856.85</text>
<text x="726.7" y="259.1" class="w" fill-opacity="0.72">46:25</text>
<text x="726.7" y="275.7" class="w">83,977.11</text>
<path d="M719 439.0H772.8Q774.8 439.0 774.8 441.0V453.9Q774.8 455.9 772.8 455.9H719Z" fill="#ffcdd2"/>
<text x="727.4" y="452.0">−233.38</text>
<path d="M719 513.0H782.9Q784.9 513.0 784.9 515.0V528.0Q784.9 530.0 782.9 530.0H719Z" fill="#ff6d00"/>
<text x="726.7" y="525.3" class="w">−1,139.43</text>
<path d="M719 532.0H782.9Q784.9 532.0 784.9 534.0V546.9Q784.9 548.9 782.9 548.9H719Z" fill="#2962ff"/>
<text x="726.7" y="544.3" class="w">−1,372.81</text>
<text x="-2.3" y="586.0" class="t" text-anchor="middle">15</text>
<text x="95.5" y="586.0" class="t" text-anchor="middle">16</text>
<text x="193.5" y="586.0" class="t" text-anchor="middle" font-weight="bold">17</text>
<text x="291.5" y="586.0" class="t" text-anchor="middle">18</text>
<text x="388.5" y="586.0" class="t" text-anchor="middle">19</text>
<text x="486.5" y="586.0" class="t" text-anchor="middle">20</text>
<text x="584.5" y="586.0" class="t" text-anchor="middle">21</text>
<text x="681.5" y="586.0" class="t" text-anchor="middle">22</text>
<g fill="none" stroke="#1e222d" stroke-width="1"><polygon points="750.3,582.4 753.6,576.3 761.3,576.3 764.7,582.4 761.3,588.5 753.6,588.5"/><circle cx="757.5" cy="582.4" r="2.1"/></g>
</svg></body></html>
